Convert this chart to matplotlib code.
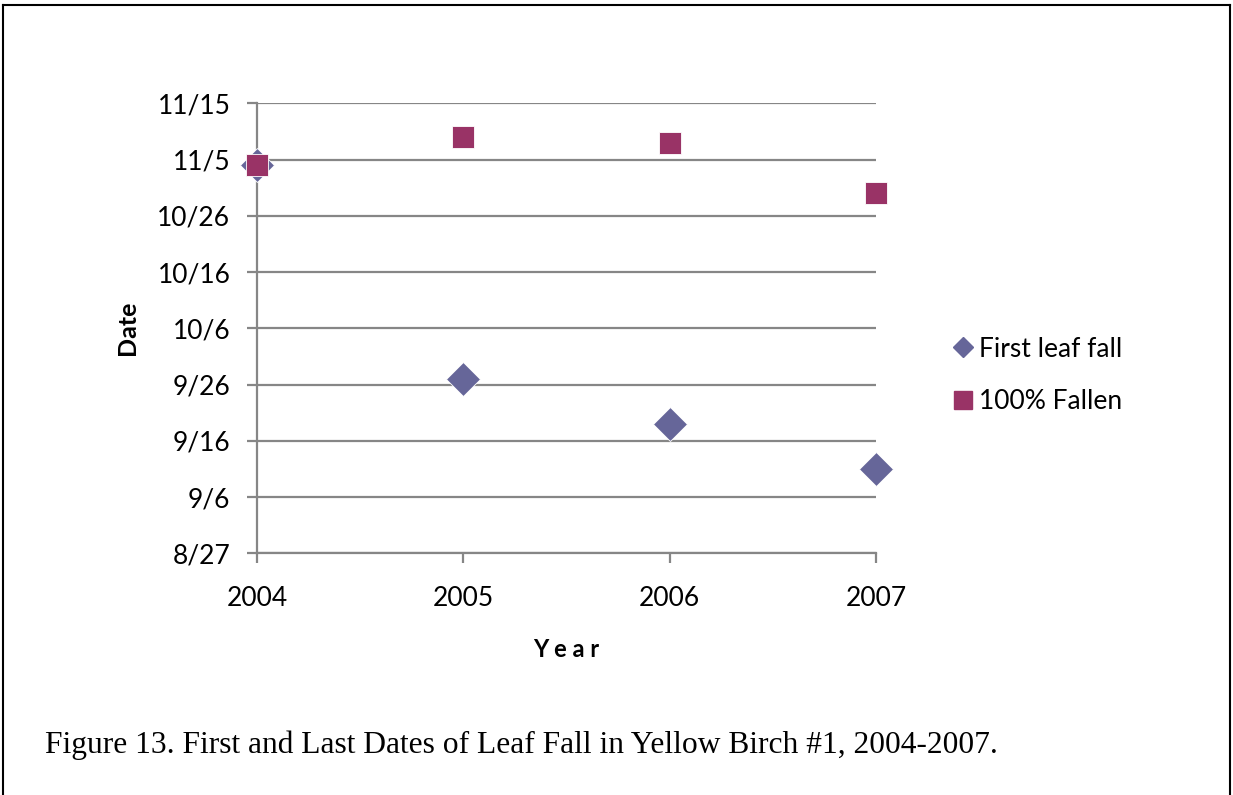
import matplotlib
matplotlib.use("Agg")
import matplotlib.pyplot as plt
import matplotlib.dates as mdates
from matplotlib.lines import Line2D
from datetime import datetime

years = [2004, 2005, 2006, 2007]
first_leaf_fall = ["11/4", "9/27", "9/19", "9/11"]
fallen_100 = ["11/4", "11/9", "11/8", "10/30"]
y_tick_labels = ["8/27", "9/6", "9/16", "9/26", "10/6", "10/16", "10/26", "11/5", "11/15"]
series_names = ["First leaf fall", "100% Fallen"]
caption = "Figure 13. First and Last Dates of Leaf Fall in Yellow Birch #1, 2004-2007."

def to_date(s):
    m, d = s.split("/")
    return datetime(2001, int(m), int(d))

first_dates = [mdates.date2num(to_date(s)) for s in first_leaf_fall]
fallen_dates = [mdates.date2num(to_date(s)) for s in fallen_100]
ytick_vals = [mdates.date2num(to_date(s)) for s in y_tick_labels]

font = "Lato"
fs = 19
grid_c = "#868686"
c1 = "#666699"
c2 = "#993366"

fig = plt.figure(figsize=(12.33, 7.95), dpi=100)
ax = fig.add_axes([257/1233, 1-553.3/795, (876-257)/1233, (553.3-103.3)/795])

ax.set_xlim(years[0], years[-1])
ax.set_ylim(ytick_vals[0], ytick_vals[-1])
ax.set_yticks(ytick_vals)
ax.set_yticklabels(y_tick_labels, fontfamily=font, fontsize=fs)
ax.set_xticks(years)
ax.set_xticklabels([str(y) for y in years], fontfamily=font, fontsize=fs)

ax.grid(axis="y", color=grid_c, linewidth=1.6)
ax.set_axisbelow(True)
for s in ["top", "right"]:
    ax.spines[s].set_visible(False)
for s in ["left", "bottom"]:
    ax.spines[s].set_color(grid_c)
    ax.spines[s].set_linewidth(1.6)
ax.tick_params(axis="both", color=grid_c, width=1.6, length=7.2)
ax.tick_params(axis="x", pad=16)
ax.tick_params(axis="y", pad=12)

ax.plot(years, first_dates, linestyle="none", marker="D", markersize=17.3,
        color=c1, markeredgecolor="white", markeredgewidth=0.6, clip_on=False,
        label=series_names[0], zorder=3)
ax.plot(years, fallen_dates, linestyle="none", marker="s", markersize=16.5,
        color=c2, markeredgecolor="white", markeredgewidth=0.6, clip_on=False,
        label=series_names[1], zorder=4)

ax.set_ylabel("Date", fontfamily=font, fontsize=18, fontweight="bold", labelpad=13)
ax.set_xlabel("Y e a r", fontfamily=font, fontsize=17, fontweight="bold", labelpad=20)

handles = [
    Line2D([], [], linestyle="none", marker="D", markersize=10, color=c1, markeredgecolor=c1),
    Line2D([], [], linestyle="none", marker="s", markersize=13, color=c2, markeredgecolor=c2),
]
leg = fig.legend(handles, series_names, loc="center left",
                 bbox_to_anchor=(951/1233, 1-375.5/795), frameon=False,
                 prop={"family": font, "size": fs}, handletextpad=0.15,
                 handlelength=0.9, labelspacing=1.05, borderaxespad=0, borderpad=0)

fig.text(45/1233, 1-745/795, caption, fontfamily="Liberation Serif", fontsize=22.7,
         ha="left", va="center")

# Frame around the figure
fig.add_artist(Line2D([3/1233, 3/1233], [0, 1-5/795], color="black", linewidth=1.5, transform=fig.transFigure))
fig.add_artist(Line2D([1230/1233, 1230/1233], [0, 1-5/795], color="black", linewidth=1.5, transform=fig.transFigure))
fig.add_artist(Line2D([3/1233, 1230/1233], [1-5/795, 1-5/795], color="black", linewidth=1.5, transform=fig.transFigure))

fig.savefig("out.png", dpi=100, facecolor="white")
